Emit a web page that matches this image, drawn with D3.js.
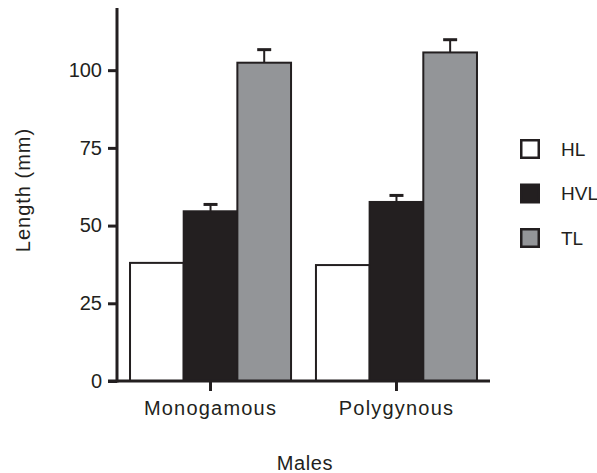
<!DOCTYPE html>
<html>
<head>
<meta charset="utf-8">
<script src="https://cdn.jsdelivr.net/npm/d3@7"></script>
<style>
  body { margin: 0; background: #fff; }
  svg text { font-family: "Liberation Sans", Arial, sans-serif; fill: #231f20; }
</style>
</head>
<body>
<svg id="chart" width="597" height="473"></svg>
<script>
const GROUPS = ["Monogamous", "Polygynous"];
const SERIES = ["HL", "HVL", "TL"];
// values per series, in GROUPS order
const HL = [38.0, 37.3];
const HVL = [54.6, 57.6];
const TL = [102.4, 105.7];
// upper error (mm), null = none drawn
const HL_ERR = [null, null];
const HVL_ERR = [2.2, 2.1];
const TL_ERR = [4.2, 4.1];
const Y_TICKS = [0, 25, 50, 75, 100];

const INK = "#231f20";
const FILLS = { HL: "#ffffff", HVL: INK, TL: "#939598" };

const values = { HL, HVL, TL };
const errors = { HL: HL_ERR, HVL: HVL_ERR, TL: TL_ERR };

const rows = [];
GROUPS.forEach((g, i) => {
  SERIES.forEach((s) => {
    rows.push({ group: g, series: s, value: values[s][i], err: errors[s][i] });
  });
});

const svg = d3.select("#chart");

const x = d3
  .scaleBand()
  .domain(GROUPS)
  .range([117, 490])
  .paddingInner(0.134)
  .paddingOuter(0.07);

const xs = d3.scaleBand().domain(SERIES).range([0, x.bandwidth()]);

const y = d3.scaleLinear().domain([0, 120]).range([381, 8]);

// bars
svg
  .append("g")
  .selectAll("rect")
  .data(rows)
  .join("rect")
  .attr("x", (d) => x(d.group) + xs(d.series))
  .attr("y", (d) => y(d.value))
  .attr("width", xs.bandwidth())
  .attr("height", (d) => y(0) - y(d.value))
  .attr("fill", (d) => FILLS[d.series])
  .attr("stroke", INK)
  .attr("stroke-width", 2);

// error bars (upper only)
const errG = svg
  .append("g")
  .selectAll("g")
  .data(rows.filter((d) => d.err != null))
  .join("g")
  .attr("transform", (d) => `translate(${x(d.group) + xs(d.series) + xs.bandwidth() / 2},0)`);

errG
  .append("line")
  .attr("y1", (d) => y(d.value))
  .attr("y2", (d) => y(d.value + d.err))
  .attr("stroke", INK)
  .attr("stroke-width", 2);

errG
  .append("line")
  .attr("x1", -7)
  .attr("x2", 7)
  .attr("y1", (d) => y(d.value + d.err))
  .attr("y2", (d) => y(d.value + d.err))
  .attr("stroke", INK)
  .attr("stroke-width", 3);

// y axis
const yAxis = svg
  .append("g")
  .attr("transform", "translate(117,0)")
  .call(d3.axisLeft(y).tickValues(Y_TICKS).tickSize(9).tickPadding(6));
yAxis.select(".domain").remove();
yAxis.selectAll(".tick line").attr("stroke", INK).attr("stroke-width", 3);
yAxis.selectAll(".tick text").attr("font-size", 20).attr("fill", INK);

svg
  .append("line")
  .attr("x1", 117)
  .attr("x2", 117)
  .attr("y1", y(120))
  .attr("y2", y(0) + 1.5)
  .attr("stroke", INK)
  .attr("stroke-width", 3);

// x axis
const xAxis = svg
  .append("g")
  .attr("transform", `translate(0,${y(0)})`)
  .call(d3.axisBottom(x).tickSize(10).tickPadding(10));
xAxis.select(".domain").remove();
xAxis.selectAll(".tick line").attr("stroke", INK).attr("stroke-width", 3);
xAxis
  .selectAll(".tick text")
  .attr("font-size", 20)
  .attr("letter-spacing", 1.2)
  .attr("fill", INK);

svg
  .append("line")
  .attr("x1", 108)
  .attr("x2", 490)
  .attr("y1", y(0))
  .attr("y2", y(0))
  .attr("stroke", INK)
  .attr("stroke-width", 3);

// axis titles
svg
  .append("text")
  .attr("transform", `translate(30,190) rotate(-90)`)
  .attr("text-anchor", "middle")
  .attr("font-size", 20)
  .attr("letter-spacing", 1)
  .text("Length (mm)");

svg
  .append("text")
  .attr("x", 305)
  .attr("y", 470)
  .attr("text-anchor", "middle")
  .attr("font-size", 20)
  .attr("letter-spacing", 0.6)
  .text("Males");

// legend
const legend = svg
  .append("g")
  .selectAll("g")
  .data(SERIES)
  .join("g")
  .attr("transform", (d, i) => `translate(520,${139 + i * 44.5})`);

legend
  .append("rect")
  .attr("x", 1.25)
  .attr("y", 1.25)
  .attr("width", 17.5)
  .attr("height", 17.5)
  .attr("fill", (d) => FILLS[d])
  .attr("stroke", INK)
  .attr("stroke-width", 2.5);

legend
  .append("text")
  .attr("x", 41)
  .attr("y", 10)
  .attr("dy", "0.35em")
  .attr("font-size", 19)
  .text((d) => d);
</script>
</body>
</html>
